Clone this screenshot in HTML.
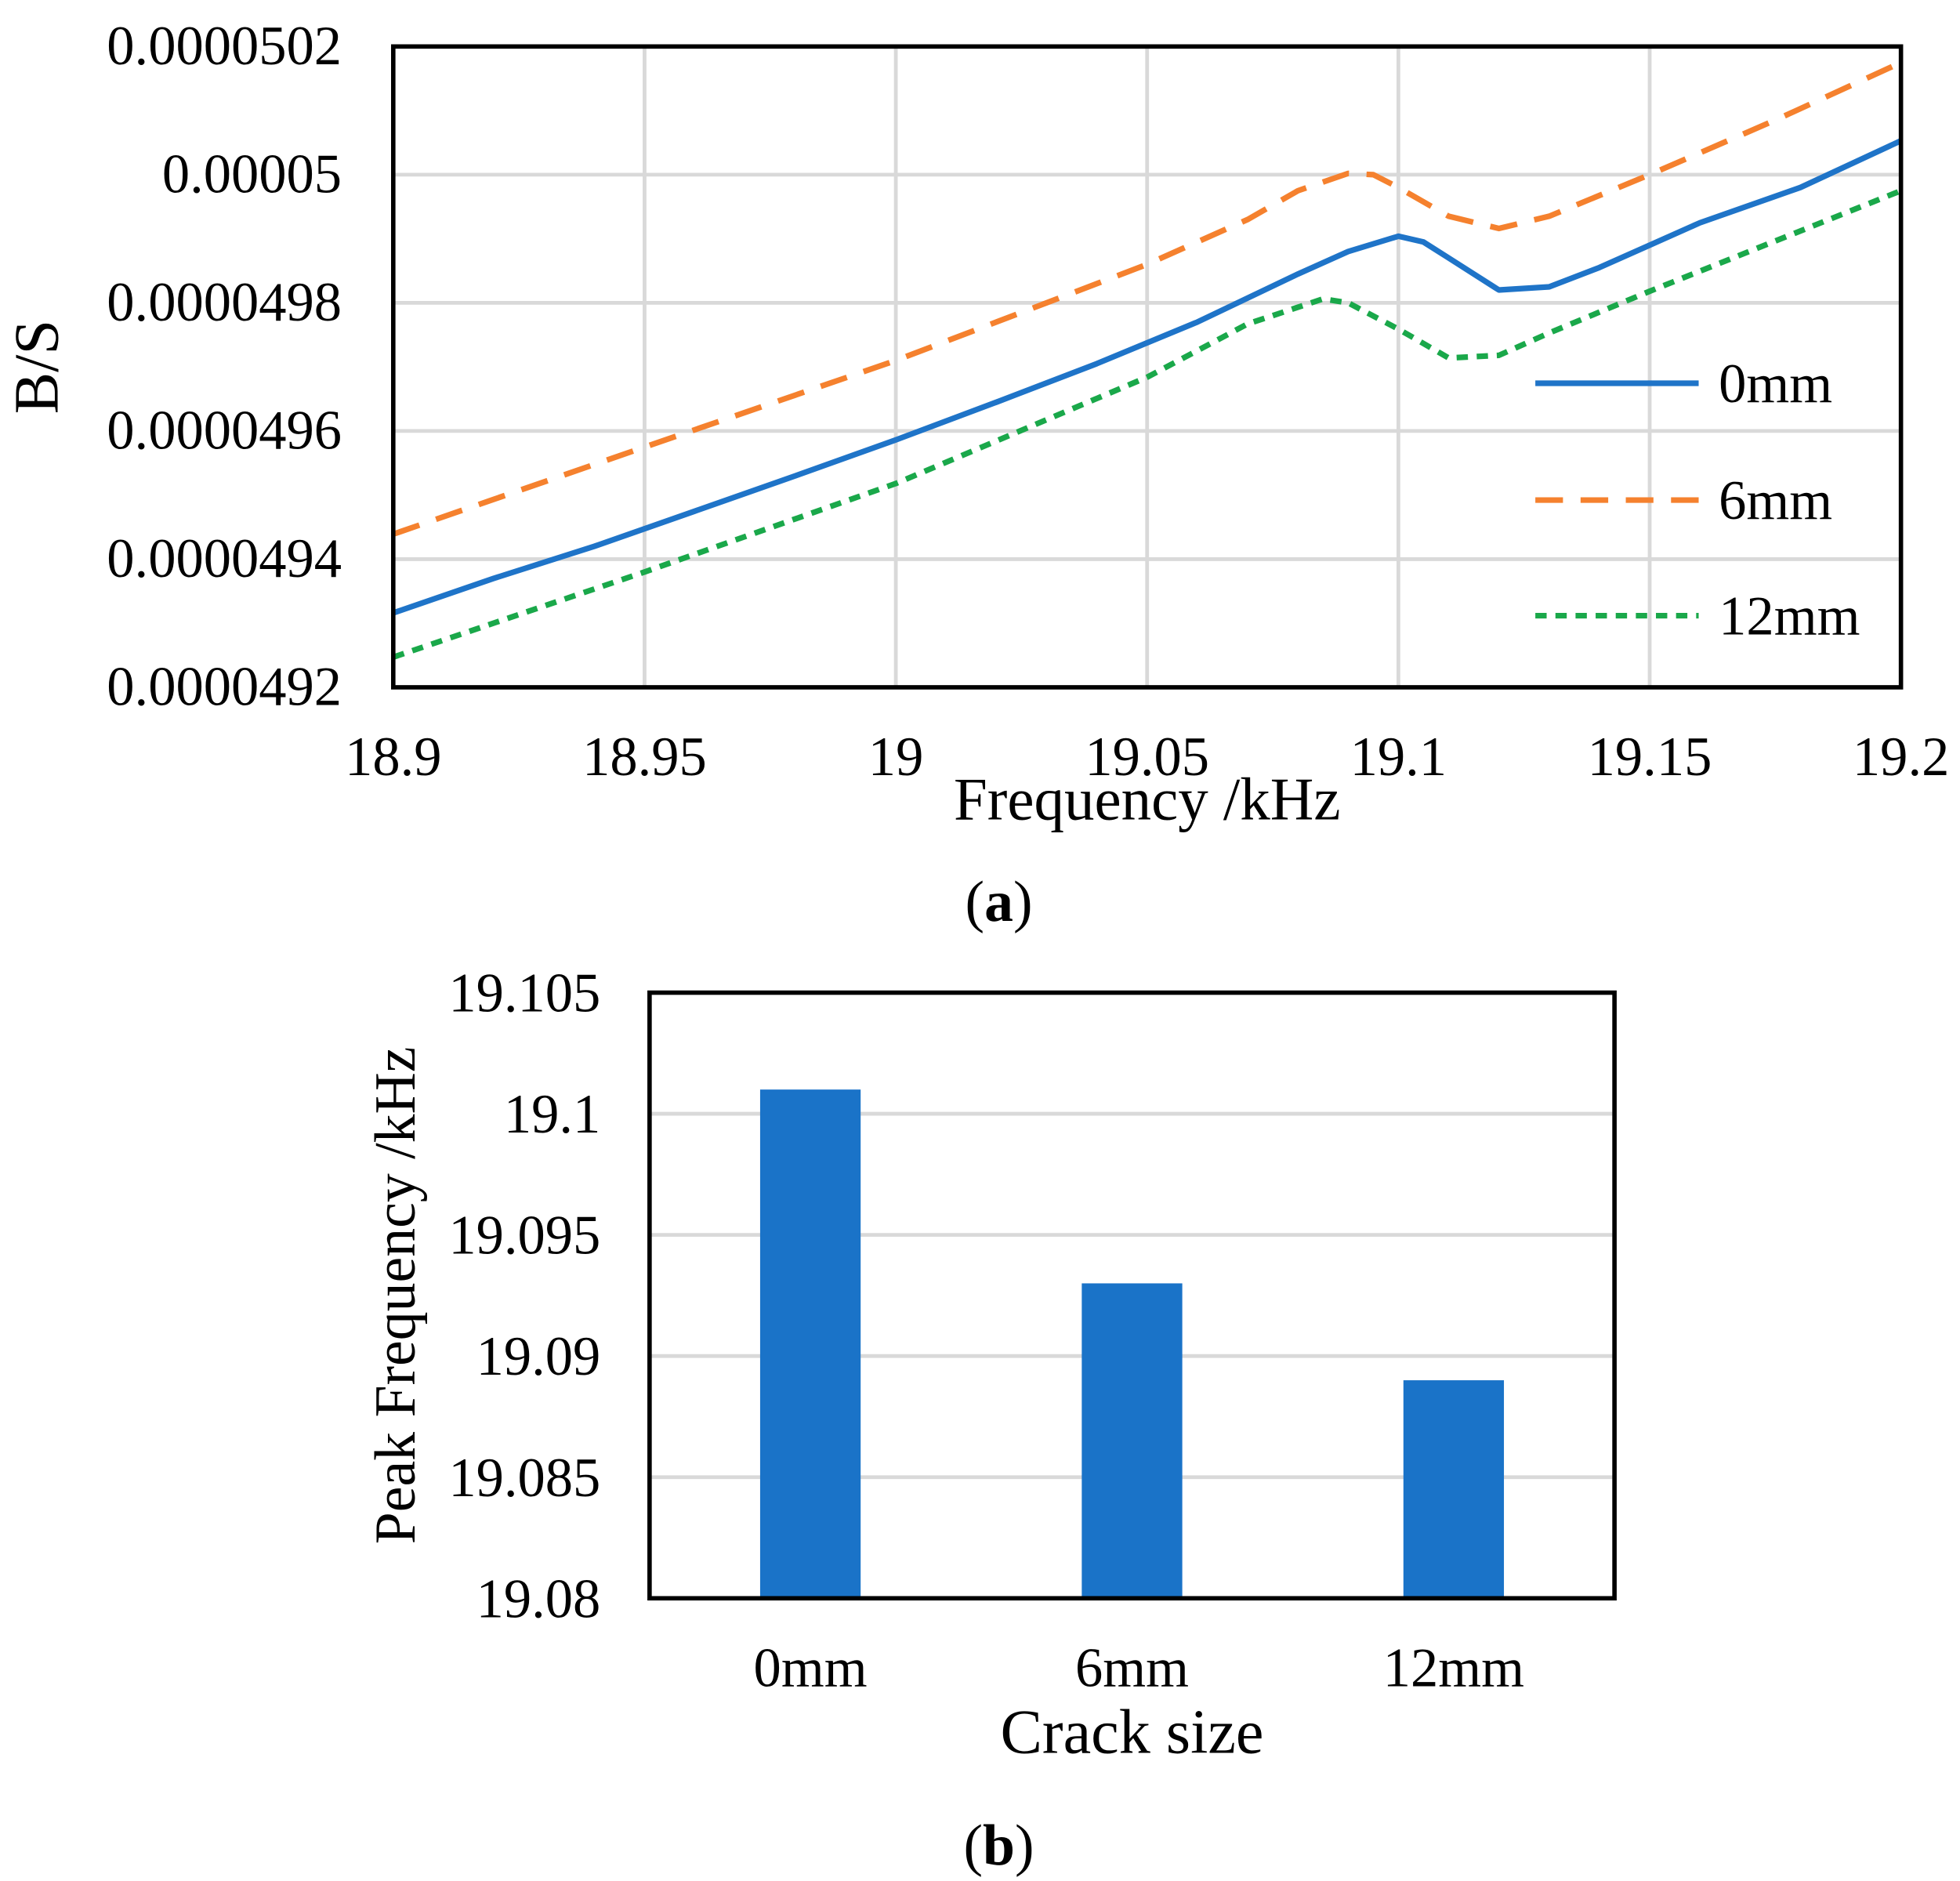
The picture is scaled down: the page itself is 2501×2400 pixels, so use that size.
<!DOCTYPE html>
<html><head><meta charset="utf-8"><style>
html,body{margin:0;padding:0;background:#fff}
svg{display:block}
text{font-family:"Liberation Serif","Times New Roman",serif;fill:#000}
</style></head><body>
<svg id="fig" width="2501" height="2400" viewBox="0 0 1560 1497" preserveAspectRatio="none">
<g id="chartA"></g>
<g id="chartB"></g>
</svg>
<script>
// ---- Chart (a) data ----
const xTicksA = [18.9, 18.95, 19, 19.05, 19.1, 19.15, 19.2];
const xTickLabelsA = ["18.9","18.95","19","19.05","19.1","19.15","19.2"];
const yTicksA = [492, 494, 496, 498, 500, 502]; // units of 1e-7
const yTickLabelsA = ["0.0000492","0.0000494","0.0000496","0.0000498","0.00005","0.0000502"];
const freq0 = [18.9,18.92,18.94,18.96,18.98,19.0,19.02,19.04,19.06,19.08,19.09,19.1,19.105,19.11,19.12,19.13,19.14,19.15,19.16,19.18,19.2];
const val0 = [493.16,493.7,494.2,494.75,495.3,495.86,496.45,497.05,497.7,498.45,498.8,499.04,498.95,498.7,498.2,498.25,498.55,498.9,499.25,499.8,500.53];
const freq6 = [18.9,18.95,19.0,19.05,19.07,19.08,19.09,19.095,19.1,19.11,19.12,19.13,19.15,19.175,19.2];
const val6 = [494.39,495.75,497.1,498.6,499.3,499.75,500.02,500.0,499.8,499.35,499.16,499.35,500.0,500.85,501.75];
const freq12 = [18.9,18.95,19.0,19.05,19.07,19.085,19.09,19.1,19.11,19.12,19.13,19.15,19.2];
const val12 = [492.47,493.8,495.18,496.84,497.67,498.06,498.0,497.59,497.14,497.18,497.53,498.18,499.75];
const seriesNames = ["0mm","6mm","12mm"];
// ---- Chart (b) data ----
const categoriesB = ["0mm","6mm","12mm"];
const valuesB = [19.101, 19.093, 19.089];
const yTicksB = [19.08, 19.085, 19.09, 19.095, 19.1, 19.105];
const yTickLabelsB = ["19.08","19.085","19.09","19.095","19.1","19.105"];

const NS="http://www.w3.org/2000/svg";
function mk(parent,tag,attrs,txt){const e=document.createElementNS(NS,tag);for(const k in attrs)e.setAttribute(k,attrs[k]);if(txt!==undefined)e.textContent=txt;parent.appendChild(e);return e;}

// Chart A
const A=document.getElementById('chartA');
const aL=313,aR=1513,aT=37,aB=547;
const xA=v=>aL+(v-18.9)/0.3*(aR-aL);
const yA=v=>aB-(v-492)/10*(aB-aT);
xTicksA.forEach((t,i)=>{
  if(i>0&&i<xTicksA.length-1){const g=mk(A,'line',{x1:xA(t),x2:xA(t),y1:aT,y2:aB,stroke:'#d9d9d9','stroke-width':3});
  
  }
  const l=mk(A,'text',{x:xA(t),y:617,'font-size':44,'text-anchor':'middle'},xTickLabelsA[i]);
  
  
});
yTicksA.forEach((t,i)=>{
  if(i>0&&i<yTicksA.length-1){const g=mk(A,'line',{x1:aL,x2:aR,y1:yA(t),y2:yA(t),stroke:'#d9d9d9','stroke-width':3});
  
  }
  const l=mk(A,'text',{x:272,y:yA(t)+14,'font-size':44,'text-anchor':'end'},yTickLabelsA[i]);
  
  
});
const styles=[{c:'#1f74c8',d:''},{c:'#f5812e',d:'22 14'},{c:'#1aa84a',d:'9 7'}];
[[freq0,val0],[freq6,val6],[freq12,val12]].forEach((s,k)=>{
  const pts=s[0].map((f,i)=>xA(f).toFixed(1)+','+yA(s[1][i]).toFixed(1)).join(' ');
  const p=mk(A,'polyline',{points:pts,fill:'none',stroke:styles[k].c,'stroke-width':4.5,'stroke-dasharray':styles[k].d,'stroke-linejoin':'round'});
  
  
  const ly=[305,398,490][k];
  const ll=mk(A,'line',{x1:1222,x2:1352,y1:ly,y2:ly,stroke:styles[k].c,'stroke-width':4.5,'stroke-dasharray':styles[k].d});
  
  
  const lt=mk(A,'text',{x:1368,y:ly+15,'font-size':44},seriesNames[k]);
  
  
});
const fa=mk(A,'rect',{x:aL,y:aT,width:aR-aL,height:aB-aT,fill:'none',stroke:'#000','stroke-width':3.5});


let t=mk(A,'text',{x:913,y:652,'font-size':48,'text-anchor':'middle'},'Frequency /kHz');


t=mk(A,'text',{x:0,y:0,'font-size':50,'text-anchor':'middle',transform:'translate(46,292) rotate(-90)'},'B/S');


t=mk(A,'text',{x:795,y:733,'font-size':46,'text-anchor':'middle'});
t.innerHTML='(<tspan font-weight="bold">a</tspan>)';



// Chart B
const B=document.getElementById('chartB');
const bL=517,bR=1285,bT=790,bB=1272;
const yB=v=>bB-(v-19.08)/0.025*(bB-bT);
const band=(bR-bL)/categoriesB.length;
yTicksB.forEach((tk,i)=>{
  if(i>0&&i<yTicksB.length-1){const g=mk(B,'line',{x1:bL,x2:bR,y1:yB(tk),y2:yB(tk),stroke:'#d9d9d9','stroke-width':3});
  
  }
  const l=mk(B,'text',{x:478,y:yB(tk)+15,'font-size':44,'text-anchor':'end'},yTickLabelsB[i]);
  
  
});
categoriesB.forEach((c,i)=>{
  const cx=bL+band*(i+0.5);
  const r=mk(B,'rect',{x:cx-40,y:yB(valuesB[i]),width:80,height:bB-yB(valuesB[i]),fill:'#1a73c8'});
  
  
  const l=mk(B,'text',{x:cx,y:1342,'font-size':44,'text-anchor':'middle'},c);
  
  
});
const fb=mk(B,'rect',{x:bL,y:bT,width:bR-bL,height:bB-bT,fill:'none',stroke:'#000','stroke-width':3.5});


t=mk(B,'text',{x:901,y:1395,'font-size':50,'text-anchor':'middle'},'Crack size');


t=mk(B,'text',{x:0,y:0,'font-size':46,'text-anchor':'middle',transform:'translate(330,1031) rotate(-90)'},'Peak Frequency /kHz');


t=mk(B,'text',{x:795,y:1484,'font-size':46,'text-anchor':'middle'});
t.innerHTML='(<tspan font-weight="bold">b</tspan>)';


</script>
</body></html>
